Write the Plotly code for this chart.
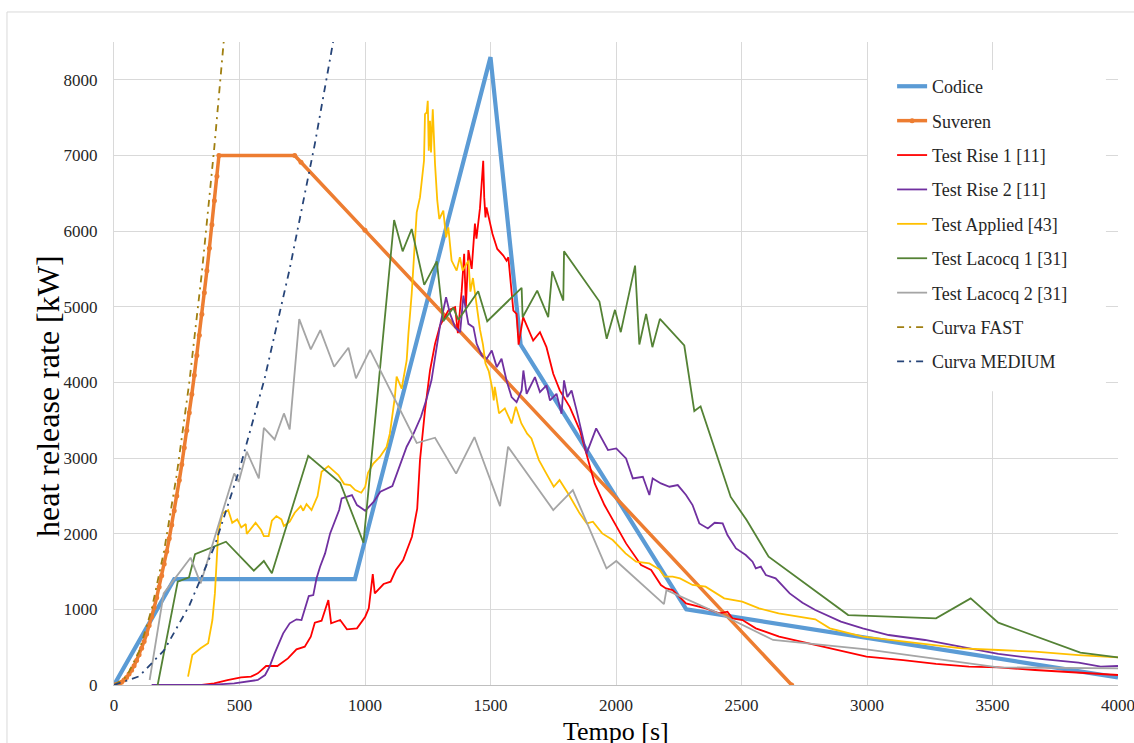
import plotly.graph_objects as go

# ---------------- data ----------------
codice_t = [0, 240, 960, 1500, 1620, 2280, 4000]
codice_v = [0, 1400, 1400, 8300, 4500, 1000, 100]

suveren_t = [0, 10, 20, 30, 40, 50, 60, 70, 80, 90, 100, 110, 120, 130, 140, 150, 160, 170,
             180, 190, 200, 210, 220, 230, 240, 250, 260, 270, 280, 290, 300, 310, 320, 330,
             340, 350, 360, 370, 380, 390, 400, 410, 418, 720, 745, 1000, 2700]
suveren_v = [0, 5, 15, 35, 65, 100, 145, 195, 255, 325, 400, 485, 575, 675, 785, 900, 1025, 1155,
             1295, 1445, 1600, 1765, 1935, 2115, 2305, 2500, 2705, 2915, 3135, 3365, 3600, 3845, 4095, 4355,
             4625, 4900, 5185, 5475, 5775, 6085, 6400, 6725, 7000, 7000, 6910, 6010, 0]

rise1_t = [350, 399, 452, 506, 546, 573, 606, 651, 693, 727, 760, 784, 800, 827, 854, 865, 901, 928,
           968, 1001, 1015, 1031, 1039, 1074, 1102, 1123, 1152, 1187, 1208, 1219, 1239, 1259, 1279,
           1299, 1332, 1359, 1370, 1385, 1395, 1402, 1412, 1425, 1438, 1444, 1458, 1464, 1471, 1475,
           1480, 1484, 1495, 1508, 1527, 1551, 1564, 1571, 1591, 1604, 1612, 1630, 1670, 1697, 1723,
           1750, 1776, 1816, 1856, 1889, 1915, 1954, 1994, 2040, 2100, 2140, 2179, 2199, 2226, 2279,
           2358, 2411, 2444, 2464, 2504, 2557, 2650, 2794, 2998, 3144, 3275, 3406, 3523, 3669, 3843, 4000]
rise1_v = [0, 22, 66, 101, 110, 154, 251, 251, 352, 471, 507, 639, 824, 850, 1123, 815, 859, 736,
           749, 903, 1013, 1467, 1211, 1335, 1366, 1520, 1652, 1960, 2330, 2970, 3630, 4158, 4510,
           4752, 4950, 4994, 4650, 5200, 5700, 5000, 5750, 5500, 6100, 5900, 6300, 6556, 6930, 6446,
           6182, 6314, 6138, 5962, 5764, 5676, 5610, 5654, 4950, 4906, 4500, 4862, 4554, 4664, 4466,
           4114, 3894, 3674, 3366, 2970, 2665, 2379, 2136, 1872, 1586, 1520, 1322, 1277, 1255, 1079,
           1013, 947, 969, 881, 859, 749, 639, 529, 374, 330, 278, 242, 233, 198, 163, 132]

rise2_t = [150, 300, 400, 479, 533, 573, 602, 620, 640, 674, 700, 727, 747, 760, 776, 794, 807, 821,
           841, 861, 881, 897, 907, 928, 948, 968, 1001, 1035, 1061, 1109, 1166, 1194, 1223, 1244,
           1265, 1299, 1323, 1339, 1359, 1379, 1392, 1412, 1432, 1445, 1465, 1485, 1505, 1525, 1544,
           1564, 1584, 1604, 1624, 1631, 1644, 1677, 1697, 1723, 1737, 1763, 1783, 1793, 1806, 1823,
           1843, 1883, 1921, 1968, 2001, 2040, 2067, 2107, 2133, 2146, 2179, 2213, 2246, 2279, 2305,
           2332, 2366, 2393, 2425, 2444, 2478, 2517, 2544, 2557, 2577, 2597, 2636, 2692, 2743, 2794,
           2896, 2983, 3086, 3231, 3377, 3523, 3669, 3843, 3931, 4000]
rise2_v = [0, 0, 5, 22, 44, 66, 132, 242, 418, 683, 815, 868, 859, 991, 1176, 1189, 1410, 1564,
           1740, 2004, 2180, 2313, 2467, 2489, 2511, 2379, 2304, 2423, 2555, 2630, 3150, 3326, 3546, 3766,
           4031, 4752, 5126, 4906, 4730, 4664, 5148, 4774, 4730, 4510, 4356, 4312, 4422, 4202, 4312,
           4026, 3806, 3740, 3894, 4158, 3850, 4070, 3872, 3960, 3762, 3850, 3586, 4026, 3806, 3894,
           3630, 3061, 3392, 3106, 3128, 2995, 2731, 2753, 2511, 2731, 2665, 2621, 2643, 2511, 2379,
           2136, 2070, 2145, 2136, 1982, 1806, 1718, 1630, 1542, 1564, 1454, 1410, 1211, 1088, 991,
           837, 749, 661, 595, 507, 410, 352, 295, 242, 251]

applied_t = [295, 312, 345, 375, 392, 402, 415, 432, 455, 471, 491, 507, 525, 529, 564, 586, 597, 616,
             629, 647, 667, 677, 700, 720, 744, 754, 767, 787, 811, 827, 854, 894, 917, 941, 961, 985,
             1001, 1012, 1033, 1059, 1086, 1099, 1119, 1126, 1146, 1166, 1173, 1186, 1206, 1219, 1235,
             1239, 1246, 1250, 1254, 1259, 1263, 1270, 1279, 1288, 1296, 1312, 1323, 1332, 1345, 1365,
             1378, 1389, 1412, 1420, 1430, 1444, 1458, 1470, 1480, 1493, 1506, 1513, 1517, 1534, 1557,
             1584, 1601, 1623, 1646, 1663, 1693, 1722, 1752, 1775, 1813, 1855, 1884, 1908, 1945, 1987,
             2038, 2080, 2133, 2173, 2193, 2226, 2255, 2305, 2357, 2431, 2503, 2570, 2648, 2794, 2852,
             2983, 3144, 3275, 3377, 3523, 3669, 3843, 4000]
applied_v = [110, 396, 485, 551, 859, 1211, 2004, 2269, 2313, 2145, 2189, 2084, 2128, 1996, 2145, 2048, 1969, 1969,
             2172, 2233, 2189, 2101, 2158, 2277, 2365, 2304, 2392, 2313, 2498, 2819, 2894, 2775, 2656, 2643, 2577, 2542,
             2621, 2806, 2926, 3014, 3146, 3322, 3806, 4078, 3916, 4290, 4642, 5170, 6248, 6446, 6930,
             7546, 7568, 7722, 7062, 7458, 7040, 7612, 6886, 6402, 6160, 6270, 5918, 6050, 5610, 5478,
             5654, 5478, 5610, 5200, 5380, 5000, 4700, 4500, 4250, 4150, 3938, 3762, 3942, 3590, 3656,
             3458, 3678, 3458, 3322, 3260, 2973, 2797, 2621, 2709, 2511, 2269, 2136, 2158, 2004, 1916,
             1740, 1630, 1608, 1529, 1432, 1432, 1410, 1322, 1300, 1145, 1101, 1013, 947, 868, 749,
             639, 573, 529, 485, 463, 441, 396, 366]

lacocq1_t = [174, 254, 299, 323, 446, 557, 597, 629, 774, 901, 994, 1116, 1150, 1186, 1236, 1286,
             1312, 1352, 1372, 1451, 1487, 1624, 1628, 1686, 1730, 1746, 1790, 1793, 1934, 1963, 1996,
             2019, 2076, 2093, 2120, 2145, 2175, 2272, 2312, 2337, 2457, 2521, 2608, 2925, 3275, 3413,
             3523, 3850, 4000]
lacocq1_v = [0, 1366, 1423, 1731, 1894, 1511, 1639, 1476, 3031, 2674, 1881, 6147, 5733, 6028, 5289, 5601,
             4809, 4986, 4827, 5205, 4809, 5250, 4862, 5214, 4862, 5469, 5082, 5733, 5069, 4576, 4959,
             4664, 5544, 4501, 4906, 4466, 4840, 4488, 3621, 3683, 2486, 2178, 1696, 925, 881, 1145,
             824, 427, 366]

lacocq2_t = [142, 198, 305, 345, 479, 497, 529, 577, 597, 640, 677, 700, 738, 784, 822, 877, 934, 964,
             1020, 1206, 1279, 1363, 1436, 1538, 1570, 1750, 1828, 1962, 2001, 2191, 2201, 2277, 2438,
             2626, 2998, 3523, 4000]
lacocq2_v = [66, 1211, 1683, 1343, 2797, 2687, 3084, 2731, 3400, 3246, 3590, 3379, 4837, 4436, 4691, 4207, 4458, 4053,
             4431, 3199, 3269, 2794, 3278, 2365, 3150, 2313, 2577, 1542, 1639, 1070, 1255, 1145, 903,
             595, 471, 233, 220]

fast_t = [0, 50, 100, 150, 200, 250, 300, 350, 400, 437]
fast_v = [0, 110, 445, 1000, 1780, 2780, 4000, 5450, 7120, 8500]

medium_t = [0, 100, 200, 300, 400, 500, 600, 700, 800, 873]
medium_v = [0, 115, 460, 1050, 1830, 2850, 4050, 5500, 7150, 8500]

x_ticks = [0, 500, 1000, 1500, 2000, 2500, 3000, 3500, 4000]
y_ticks = [0, 1000, 2000, 3000, 4000, 5000, 6000, 7000, 8000]

# ---------------- figure ----------------
SERIF = "Liberation Serif, Times New Roman, serif"

series = [
    ("Codice", codice_t, codice_v, "#5B9BD5", 4.2, None, "lines"),
    ("Suveren", suveren_t, suveren_v, "#ED7D31", 3.5, None, "lines+markers"),
    ("Test Rise 1 [11]", rise1_t, rise1_v, "#FF0000", 1.8, None, "lines"),
    ("Test Rise 2 [11]", rise2_t, rise2_v, "#7030A0", 1.8, None, "lines"),
    ("Test Applied [43]", applied_t, applied_v, "#FFC000", 1.8, None, "lines"),
    ("Test Lacocq 1 [31]", lacocq1_t, lacocq1_v, "#548235", 1.8, None, "lines"),
    ("Test Lacocq 2 [31]", lacocq2_t, lacocq2_v, "#A5A5A5", 1.8, None, "lines"),
    ("Curva FAST", fast_t, fast_v, "#A07F10", 1.8, "7px,5px,2px,5px", "lines"),
    ("Curva MEDIUM", medium_t, medium_v, "#264478", 1.8, "7px,5px,2px,5px", "lines"),
]

fig = go.Figure()
for i, (name, t, v, col, w, dash, mode) in enumerate(series):
    kw = {}
    if "markers" in mode:
        kw["marker"] = dict(size=5, color=col, symbol="circle")
    line = dict(color=col, width=w)
    if dash:
        line["dash"] = dash
    fig.add_trace(go.Scatter(x=t, y=v, mode=mode, name=name, line=line,
                             legendgroup="g%d" % i, **kw))

fig.update_layout(
    width=1134, height=743,
    margin=dict(l=114, r=16, t=42, b=58),
    paper_bgcolor="white", plot_bgcolor="white",
    font=dict(family=SERIF, color="#262626"),
    showlegend=True,
    legend=dict(
        x=0.775, y=0.9595, xanchor="left", yanchor="top",
        font=dict(family=SERIF, size=18, color="#262626"),
        bgcolor="rgba(255,255,255,0)", borderwidth=0,
        tracegroupgap=8, traceorder="grouped",
    ),
    xaxis=dict(
        range=[0, 4000], tickvals=x_ticks, ticktext=[str(v) for v in x_ticks],
        showgrid=True, gridcolor="#D9D9D9", gridwidth=1, zeroline=False,
        showline=True, linecolor="#BFBFBF", linewidth=1,
        tickfont=dict(family=SERIF, size=17, color="#262626"),
        ticks="", ticklabelstandoff=5, ticklabeloverflow="allow", automargin=False,
    ),
    yaxis=dict(
        range=[0, 8500], tickvals=y_ticks, ticktext=[str(v) for v in y_ticks],
        showgrid=True, gridcolor="#D9D9D9", gridwidth=1, zeroline=False,
        showline=True, linecolor="#D9D9D9", linewidth=1,
        tickfont=dict(family=SERIF, size=17, color="#262626"),
        ticks="", ticklabelstandoff=12, automargin=False,
    ),
    shapes=[
        # white panel behind the legend (hides gridlines there)
        dict(type="rect", xref="paper", yref="paper", x0=0.751, x1=0.988, y0=0.457, y1=0.9565,
             fillcolor="white", line=dict(width=0), layer="above"),
        # outer chart frame
        dict(type="rect", xref="paper", yref="paper", x0=-0.1066, x1=1.05, y0=-0.2, y1=1.0467,
             fillcolor="rgba(0,0,0,0)", line=dict(color="#D9D9D9", width=1), layer="above"),
    ],
    annotations=[
        dict(text="Tempo [s]", xref="paper", yref="paper", x=0.5, y=0, yshift=-46,
             xanchor="center", yanchor="middle", showarrow=False,
             font=dict(family=SERIF, size=26, color="black")),
        dict(text="heat release rate [kW]", xref="paper", yref="paper", x=0, y=0.4495, xshift=-66,
             xanchor="center", yanchor="middle", showarrow=False, textangle=-90,
             font=dict(family=SERIF, size=32, color="black")),
    ],
)

fig.write_html("out.html")
